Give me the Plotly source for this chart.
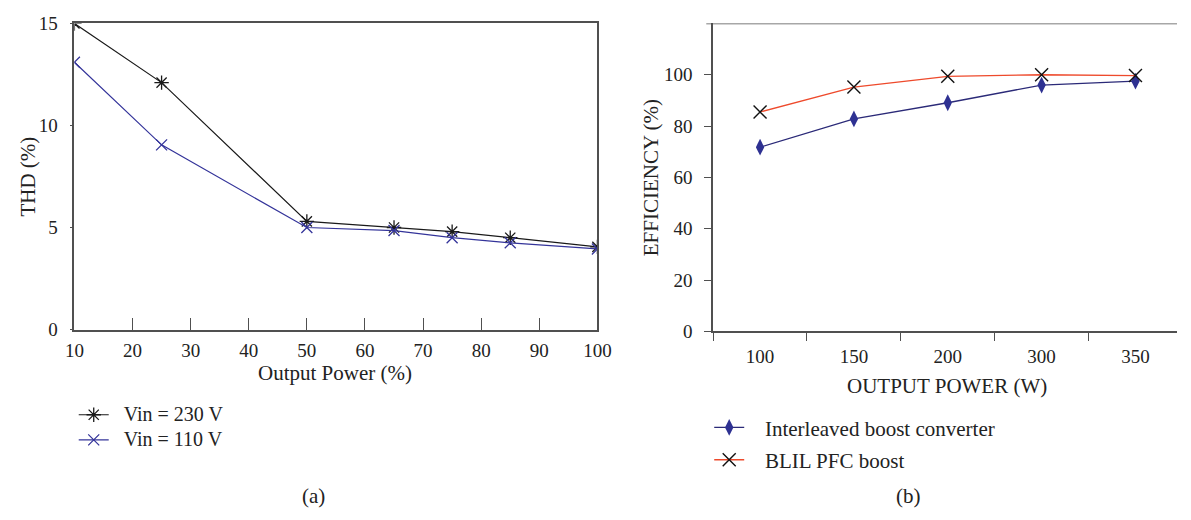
import plotly.graph_objects as go

# ---- data -------------------------------------------------------------
power_pct = [10, 25, 50, 65, 75, 85, 100]
thd_230 = [15.0, 12.1, 5.3, 5.0, 4.8, 4.5, 4.05]
thd_110 = [13.1, 9.05, 5.0, 4.85, 4.5, 4.25, 3.95]

power_w = ["100", "150", "200", "300", "350"]
eff_interleaved = [71.8, 82.8, 89.1, 96.0, 97.5]
eff_blil = [85.5, 95.2, 99.4, 100.0, 99.7]

legend_a = ["Vin = 230 V", "Vin = 110 V"]
legend_b = ["Interleaved boost converter", "BLIL PFC boost"]

# ---- layout helpers ---------------------------------------------------
W, H = 1191, 520
FONT = "Liberation Serif"
AX = "#505050"
NBSP = "\u00a0"


def px(x):
    return x / W


def py(y):
    return 1 - y / H


def entry(text, size, pad):
    # legend label: a little space after the symbol, glyphs set larger
    # than the base legend font that fixes the row height
    return f"<span style='font-size:{size}px'>{NBSP * pad}{text}</span>"


fig = go.Figure()

# (a) THD vs output power
fig.add_trace(go.Scatter(
    x=power_pct, y=thd_230, name=entry(legend_a[0], 20, 2), mode="lines+markers",
    line=dict(color="#1a1a1a", width=1.2),
    marker=dict(symbol="asterisk-open", size=12, color="#1a1a1a",
                line=dict(width=1.3, color="#1a1a1a")),
    xaxis="x", yaxis="y", legend="legend", legendgroup="a1"))
fig.add_trace(go.Scatter(
    x=power_pct, y=thd_110, name=entry(legend_a[1], 20, 2), mode="lines+markers",
    line=dict(color="#34349a", width=1.2),
    marker=dict(symbol="x-thin-open", size=11, color="#34349a",
                line=dict(width=1.3, color="#34349a")),
    xaxis="x", yaxis="y", legend="legend", legendgroup="a2"))

# (b) efficiency vs output power
fig.add_trace(go.Scatter(
    x=power_w, y=eff_interleaved, name=entry(legend_b[0], 21, 3),
    mode="lines+markers",
    line=dict(color="#2b2a78", width=1.3),
    marker=dict(symbol="diamond-tall", size=12, color="#2e3192"),
    xaxis="x2", yaxis="y2", legend="legend2", legendgroup="b1"))
fig.add_trace(go.Scatter(
    x=power_w, y=eff_blil, name=entry(legend_b[1], 21, 3), mode="lines+markers",
    line=dict(color="#ee4a2c", width=1.3),
    marker=dict(symbol="x-thin-open", size=13, color="#111111",
                line=dict(width=1.4, color="#111111")),
    xaxis="x2", yaxis="y2", legend="legend2", legendgroup="b2"))

tick_font = dict(family=FONT, size=19, color="#222222")

# category slots of panel (b) are ~95.7 px wide, the first centred half a
# slot right of the axis; the panel runs to the right edge of the figure
x2_left, x2_right, slot = 718, W, 95.7

fig.update_layout(
    width=W, height=H,
    margin=dict(l=0, r=0, t=0, b=0),
    paper_bgcolor="white", plot_bgcolor="white",
    font=dict(family=FONT, size=19, color="#222222"),
    showlegend=True,
    xaxis=dict(
        domain=[px(66.7), px(600)], range=[10, 100], dtick=10, tick0=10,
        showline=True, linecolor=AX, linewidth=1.6, mirror=True,
        ticks="inside", ticklen=12, tickwidth=1.2, tickcolor=AX,
        showgrid=False, zeroline=False, tickfont=tick_font,
        ticklabelstandoff=3, anchor="y",
    ),
    yaxis=dict(
        domain=[py(333), py(14)], range=[0, 15], dtick=5,
        showline=True, linecolor=AX, linewidth=1.6, mirror=True,
        ticks="outside", ticklen=3, tickwidth=1.2, tickcolor=AX,
        showgrid=False, zeroline=False, tickfont=tick_font,
        ticklabelstandoff=8, anchor="x",
    ),
    xaxis2=dict(
        domain=[px(x2_left), 1.0],
        range=[-0.5, -0.5 + (x2_right - x2_left) / slot], type="category",
        tickson="boundaries",
        showline=True, linecolor=AX, linewidth=1.6,
        ticks="outside", ticklen=8, tickwidth=1.2, tickcolor=AX,
        showgrid=False, zeroline=False, tickfont=tick_font,
        ticklabelstandoff=7, anchor="y2",
    ),
    yaxis2=dict(
        domain=[py(335), py(14)], range=[0, 120],
        tickvals=[0, 20, 40, 60, 80, 100],
        showline=True, linecolor=AX, linewidth=1.6,
        ticks="outside", ticklen=7, tickwidth=1.2, tickcolor=AX,
        showgrid=False, zeroline=False, tickfont=tick_font,
        ticklabelstandoff=8, anchor="x2",
    ),
    legend=dict(
        x=px(66), y=py(403.5), xanchor="left", yanchor="top",
        bgcolor="rgba(0,0,0,0)", font=dict(family=FONT, size=17),
        tracegroupgap=0, itemwidth=30,
    ),
    legend2=dict(
        x=px(714), y=py(414), xanchor="left", yanchor="top",
        bgcolor="rgba(0,0,0,0)", font=dict(family=FONT, size=21),
        tracegroupgap=2, itemwidth=30,
    ),
)

# top frame line of panel (b), running past the axis like a tick at 120
fig.add_shape(type="line", xref="paper", yref="y2",
              x0=px(711), x1=1.0, y0=120, y1=120,
              line=dict(color=AX, width=1.6))

# axis titles and panel labels
annots = [
    dict(text="Output Power (%)", x=px(332), y=py(378)),
    dict(text="THD (%)", x=px(19), y=py(174), textangle=-90),
    dict(text="OUTPUT POWER (W)", x=px(956), y=py(392)),
    dict(text="EFFICIENCY (%)", x=px(655), y=py(175), textangle=-90),
    dict(text="(a)", x=px(310), y=py(506)),
    dict(text="(b)", x=px(917), y=py(506)),
]
for a in annots:
    fig.add_annotation(xref="paper", yref="paper", showarrow=False,
                       xanchor="center", yanchor="middle",
                       font=dict(family=FONT, size=21, color="#222222"), **a)

fig.write_html("out.html")
